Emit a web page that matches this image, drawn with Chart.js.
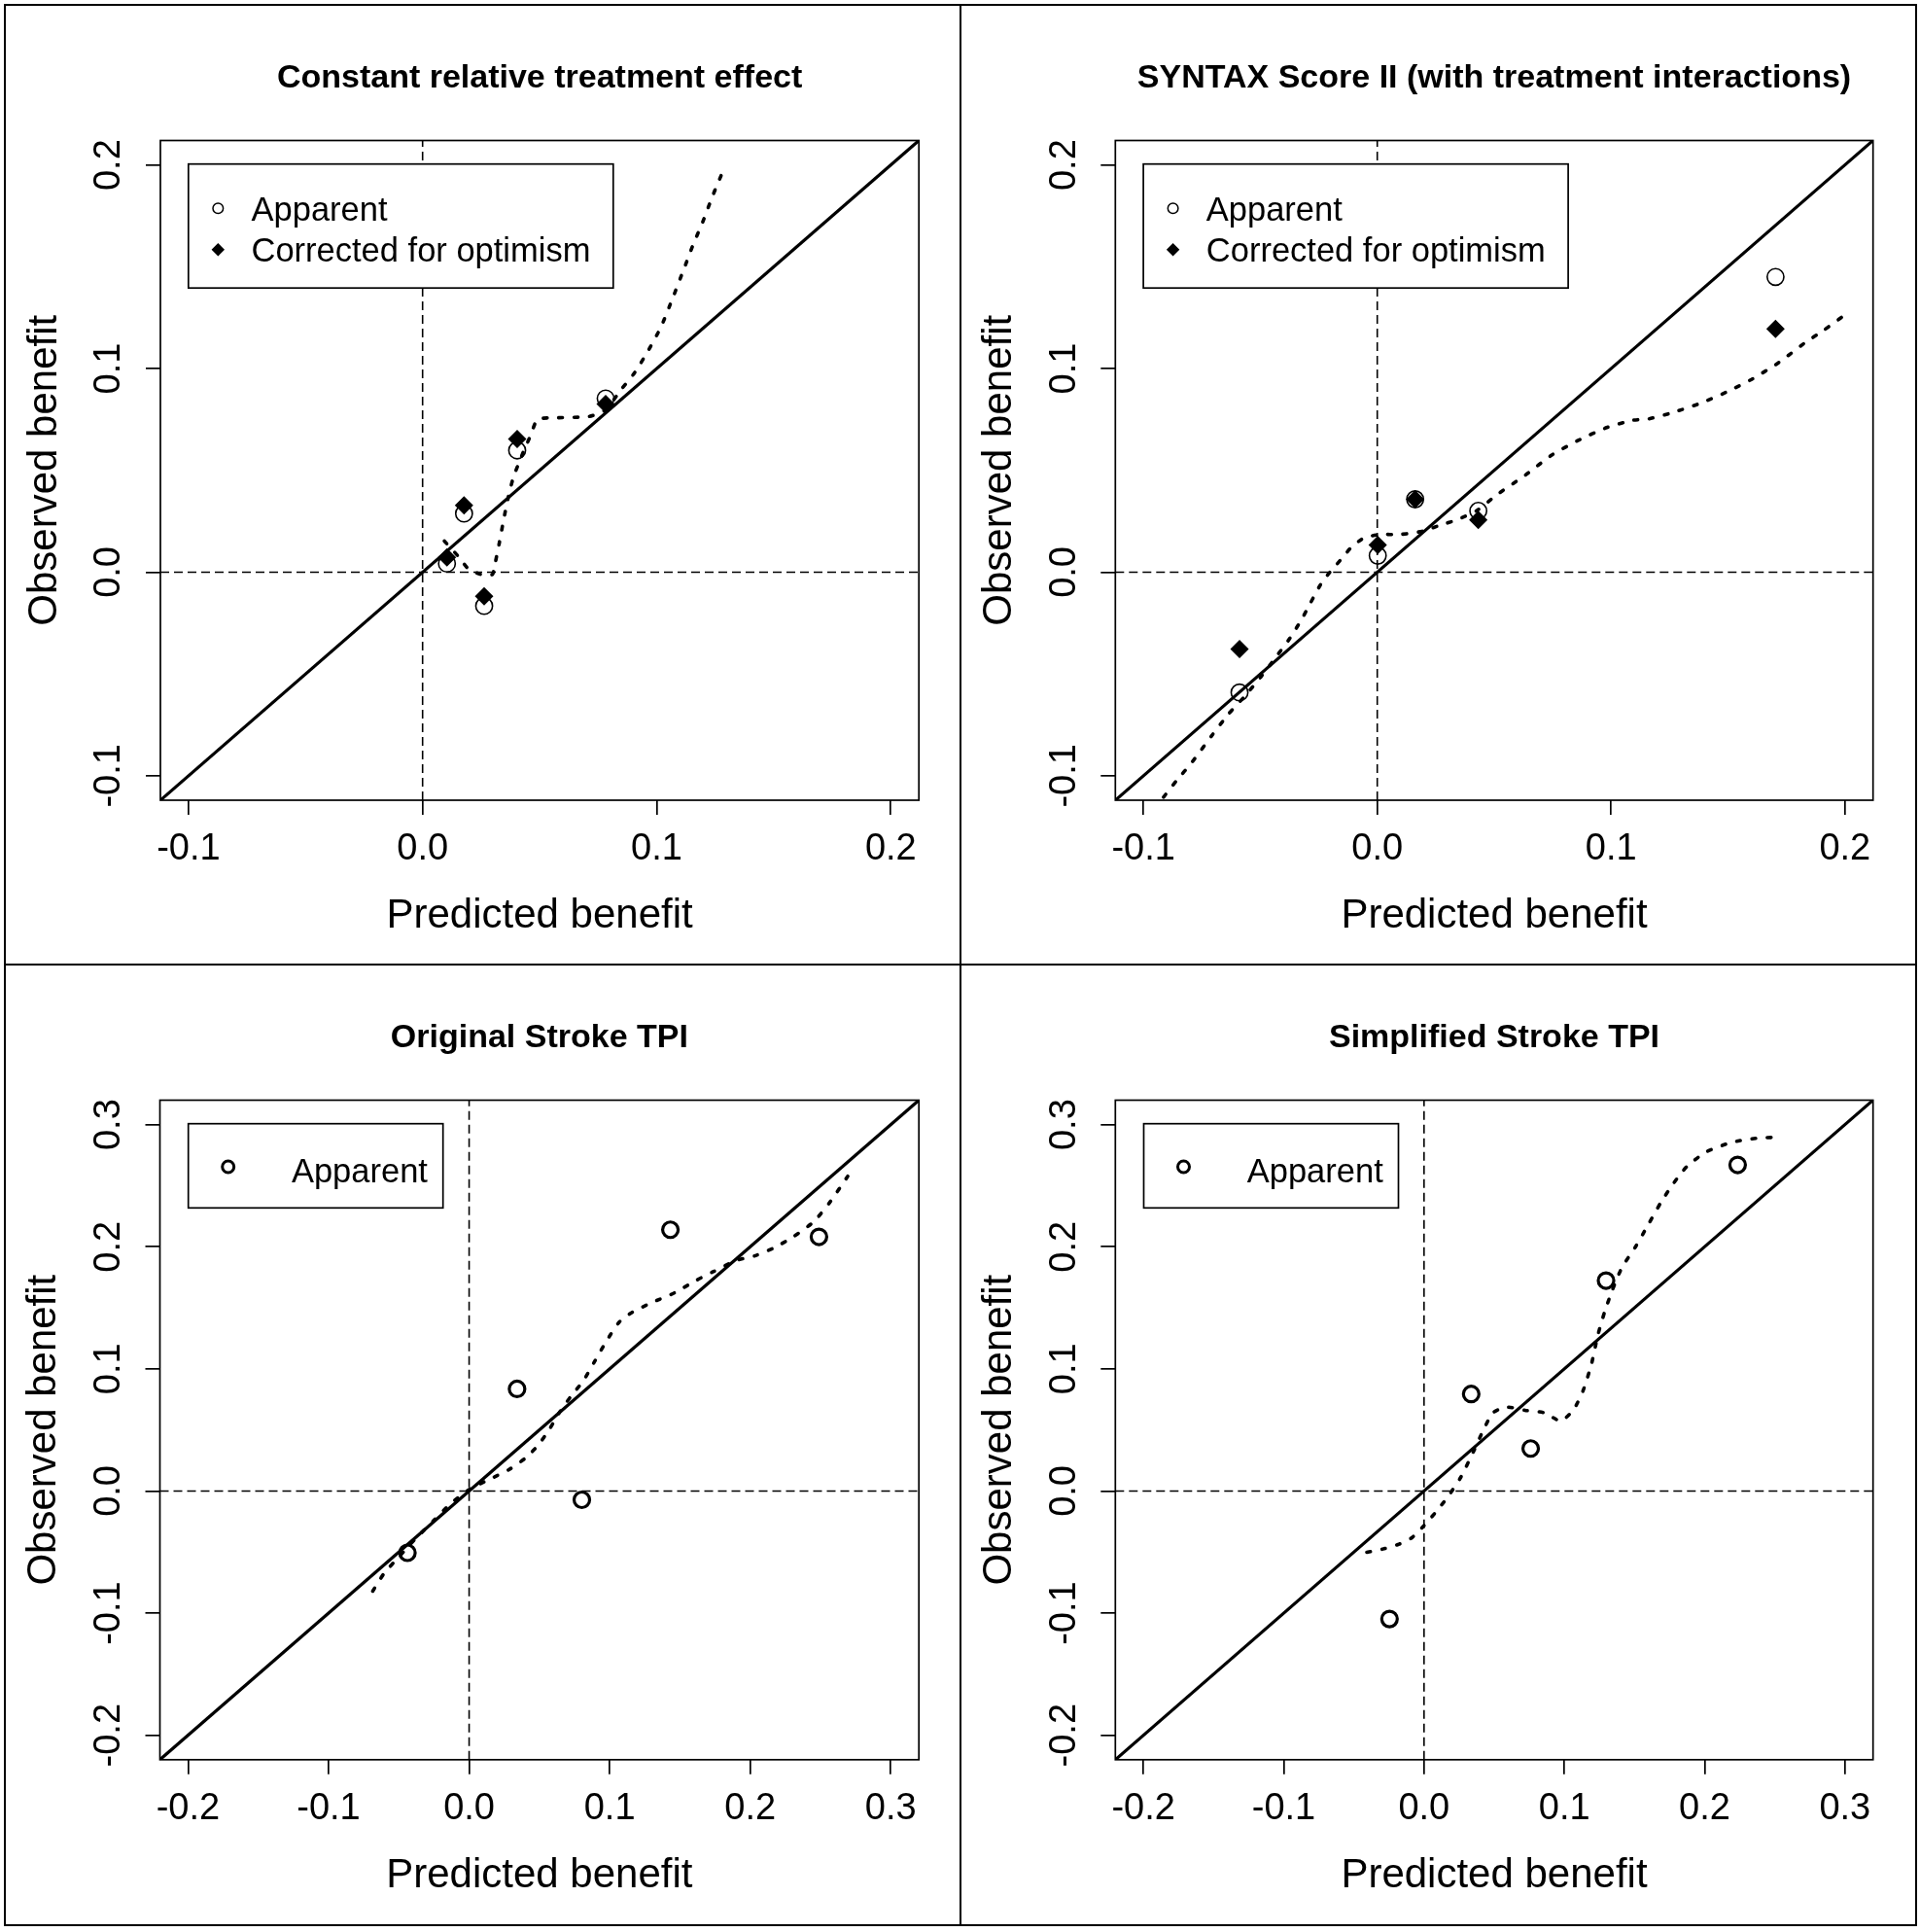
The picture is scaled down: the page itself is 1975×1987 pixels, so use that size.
<!DOCTYPE html>
<html>
<head>
<meta charset="utf-8">
<script src="https://cdn.jsdelivr.net/npm/chart.js@4.4.0/dist/chart.umd.min.js"></script>
<style>
  body { margin: 0; background: #fff; }
  #fig { position: relative; width: 1975px; height: 1987px; background: #fff; }
  #fig canvas { position: absolute; }
  .rule { position: absolute; background: #000; z-index: 2; }
  .outer { position: absolute; left: 4px; top: 4px; width: 1968px; height: 1977px; border: 2.5px solid #000; box-sizing: border-box; z-index: 2; }
</style>
</head>
<body>
<div id="fig">
  <canvas id="p1" width="988" height="992" style="left:0;top:0"></canvas>
  <canvas id="p2" width="987" height="992" style="left:988px;top:0"></canvas>
  <canvas id="p3" width="988" height="995" style="left:0;top:992px"></canvas>
  <canvas id="p4" width="987" height="995" style="left:988px;top:992px"></canvas>
  <div class="outer"></div>
  <div class="rule" style="left:986.5px;top:4px;width:2.5px;height:1977px"></div>
  <div class="rule" style="left:4px;top:990.5px;width:1968px;height:2.5px"></div>
</div>
<script>
// axis ticks and limits
const ticksTop = [-0.1, 0.0, 0.1, 0.2];
const ticksBottom = [-0.2, -0.1, 0.0, 0.1, 0.2, 0.3];
const limTop = [-0.112, 0.212];
const limBottom = [-0.22, 0.32];

const titles = [
  'Constant relative treatment effect',
  'SYNTAX Score II (with treatment interactions)',
  'Original Stroke TPI',
  'Simplified Stroke TPI'
];

// Constant relative treatment effect
const predA = [0.0104, 0.0177, 0.0263, 0.0404, 0.0782];
const apparentA = [0.0042, 0.0288, -0.0166, 0.0598, 0.0853];
const correctedA = [0.0073, 0.0328, -0.0118, 0.0654, 0.0826];
const smoothAx = [0.0093, 0.0152, 0.0194, 0.0249, 0.0298, 0.0311, 0.0328, 0.0346, 0.0366, 0.0387, 0.0408, 0.0436, 0.0461, 0.0491,
  0.0574, 0.0713, 0.0782, 0.0851, 0.0906, 0.0962, 0.1018, 0.1066, 0.1114, 0.1156, 0.1197, 0.1239, 0.1288];
const smoothAy = [0.0153, 0.0078, 0.0018, -0.0011, -0.0011, 0.0049, 0.0145, 0.0256, 0.0368, 0.0463, 0.0527, 0.0606, 0.0670, 0.0750,
  0.0758, 0.0765, 0.0798, 0.0901, 0.0980, 0.1084, 0.1203, 0.1339, 0.1482, 0.1609, 0.1721, 0.1848, 0.1983];

// SYNTAX Score II
const predB = [-0.0589, 0.0002, 0.0162, 0.0432, 0.1703];
const apparentB = [-0.0591, 0.0081, 0.0358, 0.0301, 0.1450];
const correctedB = [-0.0377, 0.0134, 0.0358, 0.0256, 0.1195];
const smoothBx = [-0.0914, -0.0859, -0.0790, -0.0707, -0.0638, -0.0568, -0.0499, -0.0430, -0.0374, -0.0326, -0.0285, -0.0243,
  -0.0202, -0.0153, -0.0112, -0.0056, 0.0013, 0.0096, 0.0193, 0.0262, 0.0345, 0.0428, 0.0511, 0.0636, 0.0746, 0.0857,
  0.0981, 0.1092, 0.1161, 0.1258, 0.1383, 0.1494, 0.1604, 0.1715, 0.1826, 0.1909, 0.1998];
const smoothBy = [-0.1105, -0.1025, -0.0930, -0.0802, -0.0699, -0.0611, -0.0516, -0.0412, -0.0325, -0.0237, -0.0150, -0.0062,
  0.0001, 0.0065, 0.0121, 0.0169, 0.0185, 0.0185, 0.0201, 0.0228, 0.0259, 0.0304, 0.0380, 0.0479, 0.0575, 0.0646,
  0.0710, 0.0746, 0.0753, 0.0782, 0.0830, 0.0885, 0.0949, 0.1028, 0.1124, 0.1188, 0.1262];

// Original Stroke TPI
const predC = [-0.0439, 0.0341, 0.0802, 0.1432, 0.2489];
const apparentC = [-0.0506, 0.0836, -0.0072, 0.2139, 0.2081];
const smoothCx = [-0.0686, -0.0605, -0.0501, -0.0385, -0.0247, -0.0132, 0.0006, 0.0145, 0.0283, 0.0399, 0.0491, 0.0572,
  0.0641, 0.0722, 0.0814, 0.0895, 0.0975, 0.1068, 0.1160, 0.1298, 0.1460, 0.1621, 0.1736, 0.1898, 0.2037, 0.2175,
  0.2313, 0.2452, 0.2567, 0.2694];
const smoothCy = [-0.0820, -0.0674, -0.0541, -0.0395, -0.0236, -0.0104, 0.0016, 0.0096, 0.0175, 0.0268, 0.0374, 0.0507,
  0.0640, 0.0772, 0.0905, 0.1065, 0.1224, 0.1383, 0.1463, 0.1542, 0.1622, 0.1728, 0.1795, 0.1887, 0.1927, 0.1994,
  0.2086, 0.2205, 0.2365, 0.2577];

// Simplified Stroke TPI
const predD = [-0.0246, 0.0336, 0.0760, 0.1297, 0.2235];
const apparentD = [-0.1048, 0.0794, 0.0348, 0.1723, 0.2670];
const smoothDx = [-0.0408, -0.0293, -0.0178, -0.0086, -0.0005, 0.0076, 0.0168, 0.0260, 0.0352, 0.0421, 0.0490, 0.0582,
  0.0720, 0.0858, 0.0974, 0.1066, 0.1135, 0.1193, 0.1239, 0.1286, 0.1343, 0.1412, 0.1504, 0.1597, 0.1689, 0.1781,
  0.1873, 0.2011, 0.2195, 0.2380, 0.2518];
const smoothDy = [-0.0502, -0.0475, -0.0435, -0.0382, -0.0289, -0.0183, -0.0050, 0.0109, 0.0322, 0.0494, 0.0640, 0.0688,
  0.0661, 0.0640, 0.0573, 0.0666, 0.0826, 0.1038, 0.1277, 0.1463, 0.1648, 0.1834, 0.1994, 0.2179, 0.2365, 0.2524,
  0.2657, 0.2776, 0.2856, 0.2890, 0.2896];

const ink = '#000';
const fontFamily = '"Liberation Sans", Arial, Helvetica, sans-serif';
Chart.defaults.font.family = fontFamily;
Chart.defaults.color = ink;

const pts = (xs, ys) => xs.map((x, i) => ({ x: x, y: ys[i] }));

function openCircles(xs, ys, r, bw) {
    return {
        label: 'Apparent', data: pts(xs, ys), showLine: false,
        pointStyle: 'circle', pointRadius: r, pointBorderWidth: bw,
        pointBorderColor: ink, pointBackgroundColor: 'rgba(0,0,0,0)'
    };
}

function diamonds(xs, ys) {
    return {
        label: 'Corrected for optimism', data: pts(xs, ys), showLine: false,
        pointStyle: 'rectRot', pointRadius: 9.5, pointBorderWidth: 0,
        pointBorderColor: ink, pointBackgroundColor: ink
    };
}

function smooth(xs, ys) {
    return {
        data: pts(xs, ys), showLine: true, pointRadius: 0, borderColor: ink,
        borderWidth: 3.6, borderDash: [3.8, 12], borderCapStyle: 'round',
        tension: 0.2, clip: 0
    };
}

// y = x and the two zero lines, spanning the axis limits
function refLines(lim) {
    const base = { showLine: true, pointRadius: 0, borderColor: ink, clip: 0, tension: 0 };
    return [
        Object.assign({}, base, { data: lim.map(v => ({ x: v, y: v })), borderWidth: 3.2 }),
        Object.assign({}, base, { data: lim.map(v => ({ x: 0, y: v })), borderWidth: 1.6, borderDash: [9, 5] }),
        Object.assign({}, base, { data: lim.map(v => ({ x: v, y: 0 })), borderWidth: 1.6, borderDash: [9, 5] })
    ];
}

// box round the plot region, R-style rotated y labels and the boxed legend
const rStyle = {
    id: 'rStyle',
    afterDatasetsDraw(chart, args, opts) {
        const ctx = chart.ctx;
        const a = chart.chartArea;
        ctx.save();
        ctx.strokeStyle = ink;
        ctx.lineWidth = 1.7;
        ctx.strokeRect(a.left, a.top, a.right - a.left, a.bottom - a.top);

        const ys = chart.scales.y;
        ctx.fillStyle = ink;
        ctx.font = '38px ' + fontFamily;
        ctx.textAlign = 'center';
        ctx.textBaseline = 'middle';
        ys.ticks.forEach(t => {
            ctx.save();
            ctx.translate(a.left - 52, ys.getPixelForValue(t.value));
            ctx.rotate(-Math.PI / 2);
            ctx.fillText(t.label, 0, 0);
            ctx.restore();
        });

        const L = opts.legend;
        const bx = a.left + L.x, by = a.top + L.y;
        ctx.fillStyle = '#fff';
        ctx.fillRect(bx, by, L.w, L.h);
        ctx.lineWidth = 1.7;
        ctx.strokeRect(bx, by, L.w, L.h);
        L.items.forEach((it, i) => {
            const ds = chart.data.datasets[it.dataset];
            const cy = by + L.rows[i];
            ctx.fillStyle = ds.pointBackgroundColor;
            ctx.strokeStyle = ds.pointBorderColor;
            ctx.lineWidth = it.border;
            Chart.helpers.drawPoint(ctx, { pointStyle: ds.pointStyle, radius: it.radius, borderWidth: it.border, rotation: 0 }, bx + L.symX, cy);
            ctx.fillStyle = ink;
            ctx.font = '34.5px ' + fontFamily;
            ctx.textAlign = 'left';
            ctx.textBaseline = 'middle';
            ctx.fillText(ds.label, bx + L.textX, cy + L.textDy);
        });
        ctx.restore();
    }
};

function makePanel(id, p) {
    const fmt = v => Number(v).toFixed(1);
    return new Chart(document.getElementById(id), {
        type: 'scatter',
        data: { datasets: p.datasets },
        options: {
            responsive: false,
            animation: false,
            events: [],
            layout: { padding: { left: p.area.l - 150, right: p.w - p.area.r, top: 0, bottom: 0 } },
            plugins: {
                legend: { display: false },
                tooltip: { enabled: false },
                title: {
                    display: true, text: p.title, fullSize: false, color: ink,
                    font: { size: 34, weight: 'bold' },
                    padding: { top: p.titleY - 20.4, bottom: p.area.t - p.titleY - 20.4 }
                },
                rStyle: { legend: p.legend }
            },
            scales: {
                x: {
                    type: 'linear', min: p.lim[0], max: p.lim[1],
                    afterBuildTicks: s => { s.ticks = p.ticks.map(v => ({ value: v })); },
                    afterFit: s => { s.height = p.h - p.area.b; },
                    grid: { drawOnChartArea: false, drawTicks: true, tickLength: 15, color: ink, lineWidth: 1.7 },
                    border: { display: false },
                    ticks: { color: ink, font: { size: 38 }, padding: 13, maxRotation: 0, autoSkip: false, callback: fmt },
                    title: {
                        display: true, text: 'Predicted benefit', color: ink, font: { size: 42 },
                        padding: { top: 0, bottom: p.h - p.area.b - 119.5 - 25.2 }
                    }
                },
                y: {
                    type: 'linear', min: p.lim[0], max: p.lim[1],
                    afterBuildTicks: s => { s.ticks = p.ticks.map(v => ({ value: v })); },
                    afterFit: s => { s.width = 150; },
                    grid: { drawOnChartArea: false, drawTicks: true, tickLength: 15, color: ink, lineWidth: 1.7 },
                    border: { display: false },
                    ticks: { display: false, autoSkip: false, callback: fmt },
                    title: {
                        display: true, text: 'Observed benefit', color: ink, font: { size: 42 },
                        padding: { top: 6, bottom: 0 }
                    }
                }
            }
        },
        plugins: [rStyle]
    });
}

const legendTwo = {
    x: 28.8, y: 24.2, w: 437, h: 127.5, symX: 30.5, textX: 64.7, textDy: 3, rows: [45.6, 88],
    items: [{ dataset: 1, radius: 5.3, border: 1.5 }, { dataset: 0, radius: 6.7, border: 0 }]
};
const legendOne = {
    x: 29.2, y: 24.2, w: 262, h: 86.6, symX: 41, textX: 106.2, textDy: 6.3, rows: [44.3],
    items: [{ dataset: 0, radius: 6, border: 3 }]
};

makePanel('p1', {
    w: 988, h: 992, area: { l: 165, t: 144.5, r: 945.2, b: 823 }, titleY: 80.3,
    title: titles[0], lim: limTop, ticks: ticksTop, legend: legendTwo,
    datasets: [diamonds(predA, correctedA), openCircles(predA, apparentA, 8.6, 1.6), smooth(smoothAx, smoothAy)].concat(refLines(limTop))
});

makePanel('p2', {
    w: 987, h: 992, area: { l: 159.3, t: 144.5, r: 938.7, b: 823 }, titleY: 80.3,
    title: titles[1], lim: limTop, ticks: ticksTop, legend: legendTwo,
    datasets: [diamonds(predB, correctedB), openCircles(predB, apparentB, 8.6, 1.6), smooth(smoothBx, smoothBy)].concat(refLines(limTop))
});

makePanel('p3', {
    w: 988, h: 995, area: { l: 164.5, t: 139.5, r: 945.2, b: 817.8 }, titleY: 75.3,
    title: titles[2], lim: limBottom, ticks: ticksBottom, legend: legendOne,
    datasets: [openCircles(predC, apparentC, 8, 3.2), smooth(smoothCx, smoothCy)].concat(refLines(limBottom))
});

makePanel('p4', {
    w: 987, h: 995, area: { l: 159.3, t: 139.5, r: 938.7, b: 817.8 }, titleY: 75.3,
    title: titles[3], lim: limBottom, ticks: ticksBottom, legend: legendOne,
    datasets: [openCircles(predD, apparentD, 8, 3.2), smooth(smoothDx, smoothDy)].concat(refLines(limBottom))
});
</script>
</body>
</html>
